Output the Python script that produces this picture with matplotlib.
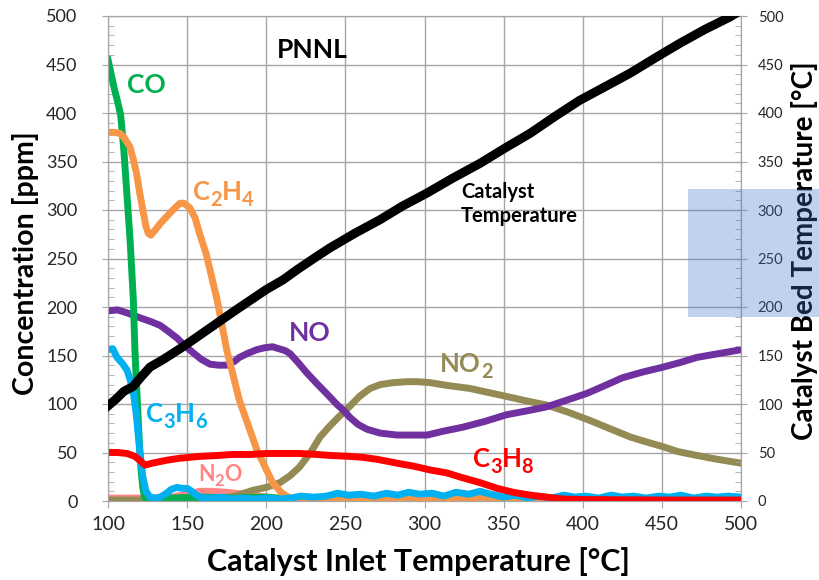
import matplotlib
matplotlib.use("Agg")
import matplotlib.pyplot as plt
from matplotlib.patches import Rectangle
from matplotlib.ticker import MultipleLocator

plt.rcParams['font.family'] = ['Lato', 'DejaVu Sans']

# inlet temperature [°C] / concentration [ppm]
co_x = [100, 102, 104, 106, 108, 110, 112, 114, 116, 117, 118, 119, 120, 121, 122, 123, 124,
        126, 140, 160, 180, 200, 215, 230, 500]
co_y = [455, 440, 425, 412, 398, 362, 315, 268, 208, 156, 120, 87, 55, 30, 14, 5, 2,
        2, 3, 4, 3, 4, 2, 0.5, 0.5]

c2h4_x = [100, 104, 107.6, 110, 113.9, 116, 118, 120, 122, 124, 125.5, 127, 129.7, 133, 137,
          141, 145.5, 148, 151.8, 155, 158, 162, 169, 175, 183, 194, 204, 210, 215, 220,
          240, 260, 300, 340, 360, 400, 450, 500]
c2h4_y = [380, 380, 379, 375, 365, 352, 338, 318, 300, 283, 276, 274, 279, 286, 293,
          300, 307, 307, 302, 292, 275, 255, 207, 156, 104, 53, 19, 8, 3, 1,
          2, 1, 2, 3, 2, 1, 2, 1]

no_x = [100, 106, 112, 120, 127, 133, 138, 143.6, 148, 153.7, 159, 164.5, 170, 175, 180, 183,
        188, 194, 199, 204, 208, 212, 215, 220, 225.7, 232, 238, 245, 248.5, 253, 258, 263.6,
        272, 282.6, 292, 301.6, 312, 324, 338, 352, 365, 377, 390, 402.7, 414, 425, 438,
        450.7, 462, 472, 486, 500]
no_y = [196, 197, 194, 189, 185, 181, 175, 168, 161, 153, 146, 141, 140, 140, 144, 148,
        152, 156, 158, 159, 157, 155, 152, 143, 132, 121, 111, 99, 94, 86, 79, 74,
        70, 68, 68, 68, 72, 76, 82, 89, 93, 97, 104, 111, 119, 127, 133,
        138, 143, 148, 152, 156]

no2_x = [100, 150, 170, 180, 191.6, 200, 208.7, 215, 221, 228, 234, 240, 246, 253, 259, 265.6,
         272, 280, 289, 296, 303.5, 315, 328.8, 340, 354, 365, 377, 390, 404.6, 418, 430, 440,
         450.7, 460, 472, 485, 500]
no2_y = [1, 1, 2, 5, 11, 14, 19, 26, 35, 50, 66, 77, 87, 98, 108, 116,
         120, 122, 123, 123, 122, 119, 116, 112, 107, 103, 99, 92, 83, 74, 66, 61,
         56, 51, 47, 43, 39]

c3h6_x = [100, 103, 105.7, 109, 112, 114, 115.8, 117, 118, 120, 122, 124, 126.5, 130, 133, 137,
          140, 143.6, 147, 150, 153, 156, 158, 162, 166, 172, 178, 185, 192, 200, 208, 215,
          222, 230, 238, 245, 252, 260, 268, 276, 283, 290, 297, 305, 312, 320, 328, 335,
          342, 350, 358, 365, 372, 380, 388, 395, 402, 410, 418, 425, 432, 440, 448, 455,
          462, 470, 478, 485, 492, 500]
c3h6_y = [156, 157, 148, 142, 135, 125, 114, 100, 87, 53, 25, 10, 4, 3, 4, 8,
          12, 14, 13, 13, 10, 6, 4, 3, 3, 4, 2, 3, 2, 3, 2, 3,
          5, 4, 5, 8, 6, 7, 5, 8, 6, 9, 7, 8, 5, 9, 7, 10,
          7, 4, 6, 3, 5, 3, 6, 4, 5, 3, 6, 4, 5, 3, 5, 4,
          6, 3, 5, 4, 5, 4]

n2o_x = [100, 110, 120, 130, 140, 150, 158, 165, 175, 185, 195, 205, 215, 230, 300, 500]
n2o_y = [3, 3, 3, 3, 4, 7, 10, 10, 9, 7, 5, 3, 2, 1, 1, 1]

c3h8_x = [100, 106, 112, 117, 120, 123.4, 128, 137, 145, 158, 170, 179, 190, 200.5, 210, 221,
          232, 240, 253, 261, 270, 282.6, 293, 303.5, 314, 324, 335, 346, 356, 367, 377,
          387.5, 400, 450, 500]
c3h8_y = [50, 50, 49, 46, 42, 37, 39, 42, 44, 46, 47, 48, 48, 49, 49, 49,
          48, 47, 46, 45, 43, 39, 36, 32, 29, 24, 19, 13, 9, 6, 4,
          2, 1.5, 1, 1]

# catalyst bed temperature [°C]
bed_x = [100, 105, 110, 115.8, 121, 126.5, 135, 147.4, 158, 169, 180, 190, 200, 210.6, 220,
         230, 240.3, 256, 271.9, 286, 301.6, 318, 335, 350, 366.7, 382, 398, 414, 429.9,
         446, 461.5, 477, 493, 500]
bed_y = [98, 105, 113, 118, 128, 138, 146, 159, 171, 183.5, 196, 207, 218, 228, 239,
         250, 261, 276, 290, 304, 317.5, 333, 348, 363, 379, 396, 413, 427, 441,
         457, 472, 486, 499, 506]

series = [
    (n2o_x, n2o_y, '#ff8585'),
    (no2_x, no2_y, '#948a54'),
    (no_x, no_y, '#7030a0'),
    (co_x, co_y, '#00b050'),
    (c2h4_x, c2h4_y, '#f79646'),
    (c3h6_x, c3h6_y, '#00b0f0'),
    (c3h8_x, c3h8_y, '#ff0000'),
]

fig = plt.figure(figsize=(8.19, 5.8), dpi=100)
ax = fig.add_axes([108 / 819, 1 - 501 / 580, 633 / 819, 485 / 580])

for i, (x, y, c) in enumerate(series):
    ax.plot(x, y, color=c, lw=5, solid_joinstyle='round', zorder=3 + i * 0.1)

ax.set_xlim(100, 500)
ax.set_ylim(0, 500)
ax.xaxis.set_major_locator(MultipleLocator(50))
ax.yaxis.set_major_locator(MultipleLocator(50))
ax.yaxis.set_minor_locator(MultipleLocator(10))
ax.grid(True, which='major', color='#a6a6a6', lw=1.0)
ax.set_axisbelow(True)
for s in ax.spines.values():
    s.set_color('#a6a6a6')
ax.tick_params(axis='y', which='major', direction='inout', length=8, color='#a6a6a6',
               labelsize=13, pad=18, labelcolor='#262626')
ax.tick_params(axis='y', which='minor', direction='in', length=4, color='#a6a6a6')
ax.tick_params(axis='x', which='major', direction='out', length=5, color='#a6a6a6',
               labelsize=14, pad=6, labelcolor='#262626')

ax.set_xlabel('Catalyst Inlet Temperature [°C]', fontsize=22, fontweight='bold', va='center')
ax.xaxis.set_label_coords(0.49, -0.124)
ax.set_ylabel('Concentration [ppm]', fontsize=20.5, fontweight='bold', va='center')
ax.yaxis.set_label_coords(-0.13, 0.49)

ax2 = ax.twinx()
ax2.plot(bed_x, bed_y, color='black', lw=6.5, solid_joinstyle='round', zorder=5)
ax2.set_ylim(0, 500)
ax2.yaxis.set_major_locator(MultipleLocator(50))
ax2.yaxis.set_minor_locator(MultipleLocator(10))
for s in ax2.spines.values():
    s.set_color('#a6a6a6')
ax2.tick_params(axis='y', which='major', direction='inout', length=8, color='#a6a6a6',
                labelsize=10.5, pad=8, labelcolor='#262626')
ax2.tick_params(axis='y', which='minor', direction='in', length=4, color='#a6a6a6')
ax2.set_ylabel('Catalyst Bed Temperature [°C]', fontsize=20, fontweight='bold',
               rotation=90, va='center')
ax2.yaxis.set_label_coords(1.1, 0.517)

renderer = fig.canvas.get_renderer()


def formula(x, y, parts, size, color):
    # letters on the baseline, digits as lowered subscripts
    xoff = 0
    for s in parts:
        sub = s.isdigit()
        t = ax.annotate(s, xy=(x, y), xycoords='data',
                        xytext=(xoff, -6 * size / 18.5 if sub else 0),
                        textcoords='offset pixels', fontsize=size * 0.78 if sub else size,
                        fontweight='bold', color=color, ha='left', va='baseline', zorder=10)
        xoff += t.get_window_extent(renderer).width


# species labels
ax.text(229, 465, 'PNNL', fontsize=19, fontweight='bold', ha='center', va='center', zorder=10)
ax.text(124, 429, 'CO', fontsize=19, fontweight='bold', color='#00b050', ha='center', va='center')
ax.text(227.6, 173, 'NO', fontsize=19, fontweight='bold', color='#7030a0', ha='center', va='center')
formula(153.7, 310, ['C', '2', 'H', '4'], 18.5, '#f79646')
formula(124, 81.5, ['C', '3', 'H', '6'], 18.5, '#00b0f0')
formula(157, 20.5, ['N', '2', 'O'], 15.5, '#ff8585')
formula(309.8, 133, ['NO', '2'], 18.5, '#948a54')
formula(330.6, 35, ['C', '3', 'H', '8'], 18.5, '#ff0000')
ax2.text(323, 306, 'Catalyst\nTemperature', fontsize=14.5, fontweight='bold', ha='left',
         va='center', linespacing=1.25, zorder=10)

# highlighted band on the right axis
fig.add_artist(Rectangle((688 / 819, 1 - 317 / 580), 131 / 819, 128 / 580,
                         transform=fig.transFigure, color='#4472c4', alpha=0.32,
                         lw=0, zorder=20))

fig.savefig('out.png', dpi=100)
